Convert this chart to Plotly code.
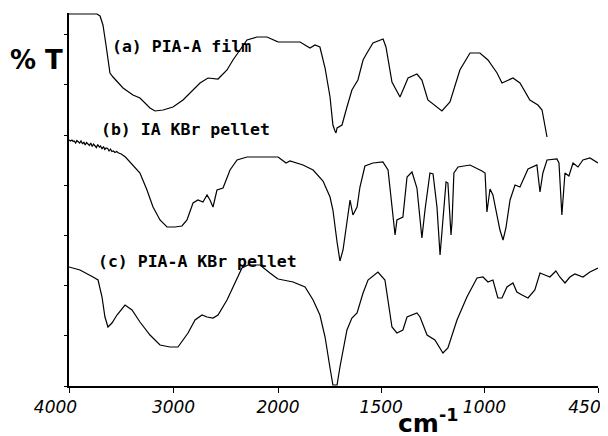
import plotly.graph_objects as go

# ---------------- data (wavenumber cm-1, relative %T in arbitrary offset units) -------------
WN_SPLIT = 2000  # instrument changes x scale at 2000 cm-1

a_wn = [4000, 3732, 3703, 3675, 3646, 3608, 3579, 3483, 3388, 3321, 3225, 3177, 3100, 3005,
        2909, 2813, 2746, 2670, 2574, 2488, 2431, 2364, 2297, 2201, 2105, 2000,
        1893, 1845, 1821, 1797, 1772, 1748, 1734, 1724, 1719, 1714, 1690, 1666, 1642, 1613,
        1588, 1569, 1540, 1491, 1477, 1448, 1409, 1370, 1327, 1303, 1274, 1206, 1167, 1119,
        1070, 1022, 983, 939, 915, 862, 828, 780, 741, 721, 697]
a_t = [372, 372, 370, 361, 341, 313, 309, 298, 291, 288, 278, 275, 276, 279,
       286, 296, 303, 308, 307, 316, 326, 336, 346, 349, 349, 344,
       344, 338, 341, 339, 318, 289, 261, 255, 253, 258, 261, 279, 296, 306,
       326, 333, 343, 347, 339, 304, 289, 308, 312, 306, 286, 275, 284, 316,
       333, 333, 326, 313, 303, 308, 303, 286, 281, 276, 249]

b_wn = [4000, 3985, 3972, 3960, 3950, 3936, 3925, 3910, 3898, 3885, 3870, 3858, 3845, 3832,
        3818, 3805, 3792, 3778, 3765, 3750, 3738, 3725, 3710, 3698, 3684, 3670, 3658, 3645,
        3630, 3617, 3603, 3590, 3575, 3560, 3545, 3525,
        3500, 3460, 3416, 3321, 3254, 3196, 3129, 3062, 2986, 2919, 2871, 2813,
        2766, 2718, 2679, 2651, 2622, 2584, 2526, 2459, 2392, 2297, 2172, 2000,
        1961, 1942, 1879, 1830, 1782, 1748, 1734, 1714, 1700, 1685, 1666, 1651, 1637, 1617,
        1603, 1579, 1540, 1492, 1467, 1448, 1433, 1424, 1395, 1375, 1351, 1327, 1303, 1288,
        1264, 1249, 1230, 1215, 1201, 1186, 1177, 1162, 1157, 1148, 1128, 1070, 1012, 997,
        988, 973, 959, 939, 925, 910, 896, 876, 852, 828, 809, 789, 746, 731, 717, 697,
        649, 639, 625, 610, 591, 571, 547, 523, 489, 450]
b_t = [246, 245, 246, 244.5, 245, 243, 245.5, 244, 243, 245, 242, 244, 241, 243.5,
       242, 240.5, 243, 239.5, 242, 240, 238.5, 241.5, 239, 240, 237, 239.5, 236.5, 238,
       237.5, 235, 237, 234.5, 235, 233.5, 234.5, 233,
       232, 229, 224, 213, 196, 179, 166, 159, 159, 160, 166, 183,
       186, 184, 191, 186, 179, 196, 198, 216, 226, 229, 229, 229,
       223, 225, 221, 216, 205, 189, 176, 144, 125, 136, 166, 186, 171, 179,
       199, 220, 223, 224, 216, 181, 151, 166, 169, 209, 214, 198, 148, 176,
       213, 212, 179, 131, 166, 204, 203, 151, 164, 213, 219, 221, 215, 213,
       174, 197, 191, 169, 156, 146, 158, 186, 201, 199, 208, 217, 221, 194, 213, 226,
       227, 223, 171, 213, 210, 223, 219, 226, 228, 223]

c_wn = [4000, 3895, 3770, 3722, 3684, 3656, 3627, 3589, 3541, 3464, 3397, 3321, 3225, 3129,
        3034, 2957, 2909, 2861, 2794, 2727, 2679, 2622, 2574, 2488, 2412, 2345, 2287, 2172,
        2077, 2000, 1927, 1869, 1830, 1797, 1772, 1748, 1734, 1714, 1700, 1666, 1642, 1617,
        1588, 1564, 1516, 1482, 1467, 1448, 1424, 1395, 1375, 1327, 1312, 1278, 1240, 1201,
        1177, 1133, 1085, 1036, 1007, 983, 959, 935, 915, 891, 862, 843, 818, 789, 756, 731,
        707, 683, 654, 635, 610, 586, 562, 523, 489, 450]
c_t = [119, 116, 109, 106, 89, 69, 59, 63, 71, 81, 76, 64, 51, 41,
       39, 39, 46, 53, 66, 71, 69, 68, 71, 86, 103, 118, 121, 121,
       113, 107, 104, 99, 86, 71, 49, 18, 1, 1, 19, 56, 68, 73,
       93, 106, 114, 106, 86, 59, 53, 56, 69, 73, 69, 51, 46, 33,
       38, 66, 89, 108, 109, 104, 106, 88, 88, 99, 103, 94, 91, 88, 96, 113,
       111, 109, 115, 109, 103, 109, 112, 109, 114, 118]

high_ticks = [4000, 3000, 2000]
low_ticks = [1500, 1000, 450]
high_tick_text = ["4000\u00a0\u00a0\u00a0\u00a0\u00a0", "3000", "2000"]
low_tick_text = ["1500", "1000", "450\u00a0\u00a0\u00a0\u00a0\u00a0"]

labels = ["(a) PIA-A film", "(b) IA KBr pellet", "(c) PIA-A KBr pellet"]


def split(wn, t, high):
    pts = [(w, v) for w, v in zip(wn, t) if (w >= WN_SPLIT if high else w <= WN_SPLIT)]
    return [p[0] for p in pts], [p[1] for p in pts]


fig = go.Figure()
line = dict(color="black", width=1.2)
for wn, t in [(a_wn, a_t), (b_wn, b_t), (c_wn, c_t)]:
    x1, y1 = split(wn, t, True)
    x2, y2 = split(wn, t, False)
    fig.add_trace(go.Scatter(x=x1, y=y1, mode="lines", line=line, xaxis="x", yaxis="y",
                             showlegend=False, hoverinfo="skip"))
    fig.add_trace(go.Scatter(x=x2, y=y2, mode="lines", line=line, xaxis="x2", yaxis="y",
                             showlegend=False, hoverinfo="skip"))

split_frac = 209 / 529
tickfont = dict(family="DejaVu Sans", size=17, color="black", style="italic")
common_x = dict(showgrid=False, zeroline=False, showline=True, linecolor="black", linewidth=1.5,
                ticks="outside", ticklen=5, tickwidth=1, tickcolor="black", tickfont=tickfont,
                anchor="y", tickmode="array", automargin=False, ticklabeloverflow="allow")

# the page body adds an 8px offset, so the figure is 600x428
fig.update_layout(
    width=600, height=428,
    margin=dict(l=61, r=10, t=5, b=50, autoexpand=False),
    paper_bgcolor="white", plot_bgcolor="white",
    xaxis=dict(domain=[0, split_frac], range=[4000, 2000], tickvals=high_ticks,
               ticktext=high_tick_text, **common_x),
    xaxis2=dict(domain=[split_frac, 1], range=[2000, 450], tickvals=low_ticks,
                ticktext=low_tick_text, **common_x),
    yaxis=dict(range=[0, 373], showgrid=False, zeroline=False, showline=True, linecolor="black",
               linewidth=1.5, ticks="outside", ticklen=3, tickcolor="black", tick0=0, dtick=50.2,
               showticklabels=False, automargin=False),
)

lab_font = dict(family="DejaVu Sans Mono", size=16.5, color="black", weight="bold")
label_pos = [(0.2136, 0.9115), (0.2193, 0.689), (0.242, 0.335)]
for txt, (lx, ly) in zip(labels, label_pos):
    fig.add_annotation(text=txt, x=lx, y=ly, xref="paper", yref="paper", showarrow=False,
                       xanchor="center", yanchor="middle", font=lab_font)

fig.add_annotation(text="% T", x=-0.062, y=0.874, xref="paper", yref="paper", showarrow=False,
                   xanchor="center", yanchor="middle",
                   font=dict(family="DejaVu Sans", size=26, color="black", weight="bold"))
fig.add_annotation(text="cm<sup>-1</sup>", x=0.679, y=-0.095, xref="paper", yref="paper",
                   showarrow=False, xanchor="center", yanchor="middle",
                   font=dict(family="DejaVu Sans", size=25, color="black", weight="bold"))

fig.write_html("out.html")
